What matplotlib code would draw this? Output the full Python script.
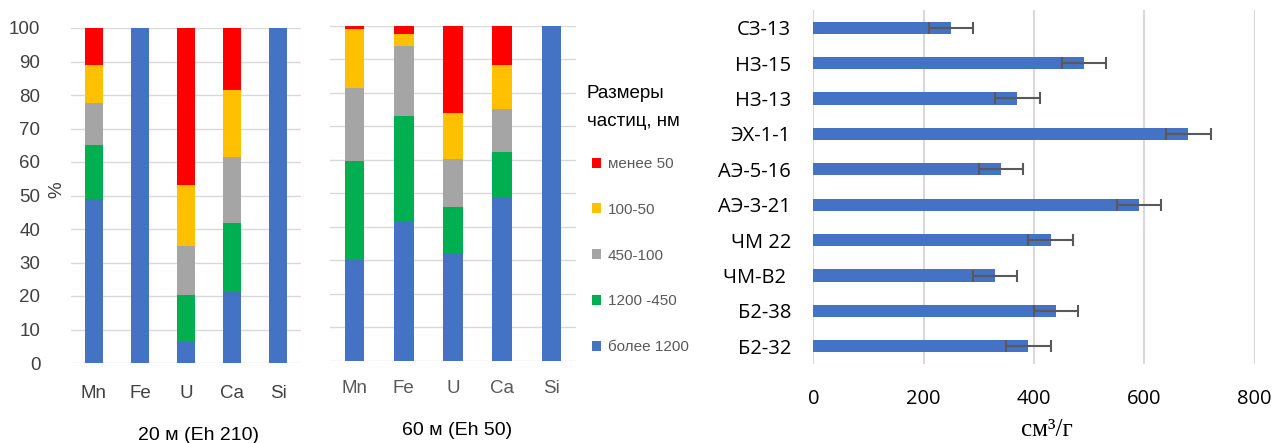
import matplotlib
matplotlib.use("Agg")
import matplotlib.pyplot as plt
from matplotlib import font_manager
from matplotlib.patches import Patch

# ---------------- data ----------------
elements = ["Mn", "Fe", "U", "Ca", "Si"]
size_classes = ["более 1200", "1200 -450", "450-100", "100-50", "менее 50"]
class_colors = ["#4472C4", "#00B050", "#A5A5A5", "#FFC000", "#FF0000"]

# 20 m (Eh 210), % per size class
d20_gt1200 = [49.0, 100.0, 6.3, 21.3, 100.0]
d20_1200_450 = [16.1, 0.0, 14.1, 20.4, 0.0]
d20_450_100 = [12.4, 0.0, 14.5, 19.8, 0.0]
d20_100_50 = [11.5, 0.0, 18.1, 20.1, 0.0]
d20_lt50 = [11.0, 0.0, 47.0, 18.4, 0.0]

# 60 m (Eh 50), % per size class
d60_gt1200 = [30.0, 41.7, 31.8, 48.6, 100.0]
d60_1200_450 = [29.6, 31.3, 14.2, 13.6, 0.0]
d60_450_100 = [21.9, 21.0, 14.1, 13.0, 0.0]
d60_100_50 = [17.5, 3.4, 13.9, 13.1, 0.0]
d60_lt50 = [1.0, 2.6, 26.0, 11.7, 0.0]

y_ticks = [0, 10, 20, 30, 40, 50, 60, 70, 80, 90, 100]

samples = ["СЗ-13", "НЗ-15", "НЗ-13", "ЭХ-1-1", "АЭ-5-16",
           "АЭ-3-21", "ЧМ 22", "ЧМ-В2 ", "Б2-38", "Б2-32"]
volumes = [250, 490, 370, 680, 340, 590, 430, 330, 440, 390]
vol_err = [40, 40, 40, 40, 40, 40, 40, 40, 40, 40]
x_ticks = [0, 200, 400, 600, 800]

# ---------------- fonts ----------------
names = {f.name for f in font_manager.fontManager.ttflist}
NARROW = "Liberation Sans Narrow" if "Liberation Sans Narrow" in names else "Liberation Sans"
SANS = "Open Sans" if "Open Sans" in names else "DejaVu Sans"
SERIF = "Liberation Serif"
NS = 13.5 if NARROW == "Liberation Sans" else 14.5   # tick font size in the left charts

W, H = 1274, 443
fig = plt.figure(figsize=(W / 100, H / 100), dpi=100)
fig.patch.set_facecolor("white")


def fx(px):
    return px / W


def fy(py):
    return 1 - py / H


def stacked(ax, series, width, label_color, pad):
    bottoms = [0.0] * len(elements)
    x = list(range(len(elements)))
    for vals, col, lab in zip(series, class_colors, size_classes):
        ax.bar(x, vals, width=width, bottom=bottoms, color=col, label=lab,
               zorder=3, linewidth=0)
        bottoms = [b + v for b, v in zip(bottoms, vals)]
    ax.set_xlim(-0.5, 4.5)
    ax.set_ylim(0, 100)
    ax.set_yticks(y_ticks)
    ax.yaxis.grid(True, color="#D9D9D9", linewidth=1.0, zorder=0)
    ax.set_axisbelow(True)
    for s in ax.spines.values():
        s.set_visible(False)
    ax.set_xticks(x)
    ax.set_xticklabels(elements, fontfamily=NARROW, fontsize=NS, color=label_color)
    ax.tick_params(axis="both", length=0)
    ax.tick_params(axis="x", pad=pad)


# left chart: 20 m
ax1 = fig.add_axes([fx(71), fy(363), fx(301 - 71), (363 - 28) / H])
stacked(ax1, [d20_gt1200, d20_1200_450, d20_450_100, d20_100_50, d20_lt50], 0.39, "#404040", 16)
ax1.set_yticklabels([str(t) for t in y_ticks], fontfamily=NARROW, fontsize=NS, color="#404040")
ax1.tick_params(axis="y", pad=22)
ax1.set_ylabel("%", fontfamily=NARROW, fontsize=NS, color="#404040")
ax1.yaxis.label.set_va("center")
ax1.yaxis.set_label_coords(-0.061, 0.516)
fig.text(fx(199), fy(436), "20 м (Eh 210)", fontfamily=NARROW, fontsize=NS + 0.5,
         ha="center", va="center", color="#000000")

# middle chart: 60 m
ax2 = fig.add_axes([fx(330), fy(360.7), fx(576 - 330), (360.7 - 25.7) / H])
stacked(ax2, [d60_gt1200, d60_1200_450, d60_450_100, d60_100_50, d60_lt50], 0.40, "#595959", 14)
ax2.set_yticklabels([])
fig.text(fx(456.7), fy(430.5), "60 м (Eh 50)", fontfamily=NARROW, fontsize=NS + 0.5,
         ha="center", va="center", color="#000000")

# legend
fig.text(fx(586.7), fy(93.3), "Размеры", fontfamily=NARROW, fontsize=NS,
         ha="left", va="center", color="#000000")
fig.text(fx(586.7), fy(121.7), "частиц, нм", fontfamily=NARROW, fontsize=NS,
         ha="left", va="center", color="#000000")
handles = [Patch(facecolor=c, edgecolor="none", label=l)
           for c, l in zip(class_colors, size_classes)][::-1]
leg = fig.legend(handles=handles, loc="upper left",
                 bbox_to_anchor=(fx(592), fy(157)), frameon=False,
                 prop={"family": NARROW, "size": 11}, labelcolor="#595959",
                 handlelength=0.62, handleheight=0.62, handletextpad=0.4,
                 labelspacing=2.08, borderpad=0, borderaxespad=0)

# right chart: horizontal bars
ax3 = fig.add_axes([fx(813.3), fy(364), fx(1254.7 - 813.3), (364 - 10) / H])
ypos = list(range(len(samples)))
ax3.barh(ypos, volumes, height=0.34, color="#4472C4", zorder=3, linewidth=0)
ax3.errorbar(volumes, ypos, xerr=vol_err, fmt="none", ecolor="#595959",
             elinewidth=1.5, capsize=4.3, capthick=1.5, zorder=4)
ax3.set_xlim(0, 800)
ax3.set_ylim(9.5, -0.5)
ax3.set_xticks(x_ticks)
ax3.set_xticklabels([str(t) for t in x_ticks], fontfamily=SANS, fontsize=14.5, color="#000000")
ax3.set_yticks(ypos)
ax3.set_yticklabels(samples, fontfamily=SANS, fontsize=14.5, color="#000000")
ax3.xaxis.grid(True, color="#D9D9D9", linewidth=1.5, zorder=0)
ax3.set_axisbelow(True)
for s in ax3.spines.values():
    s.set_visible(False)
ax3.tick_params(axis="both", length=0)
ax3.tick_params(axis="x", pad=18)
ax3.tick_params(axis="y", pad=16)
fig.text(fx(1047), fy(430), "см³/г", fontfamily=SERIF, fontsize=18,
         ha="center", va="center", color="#000000")

fig.savefig("out.png", dpi=100)
